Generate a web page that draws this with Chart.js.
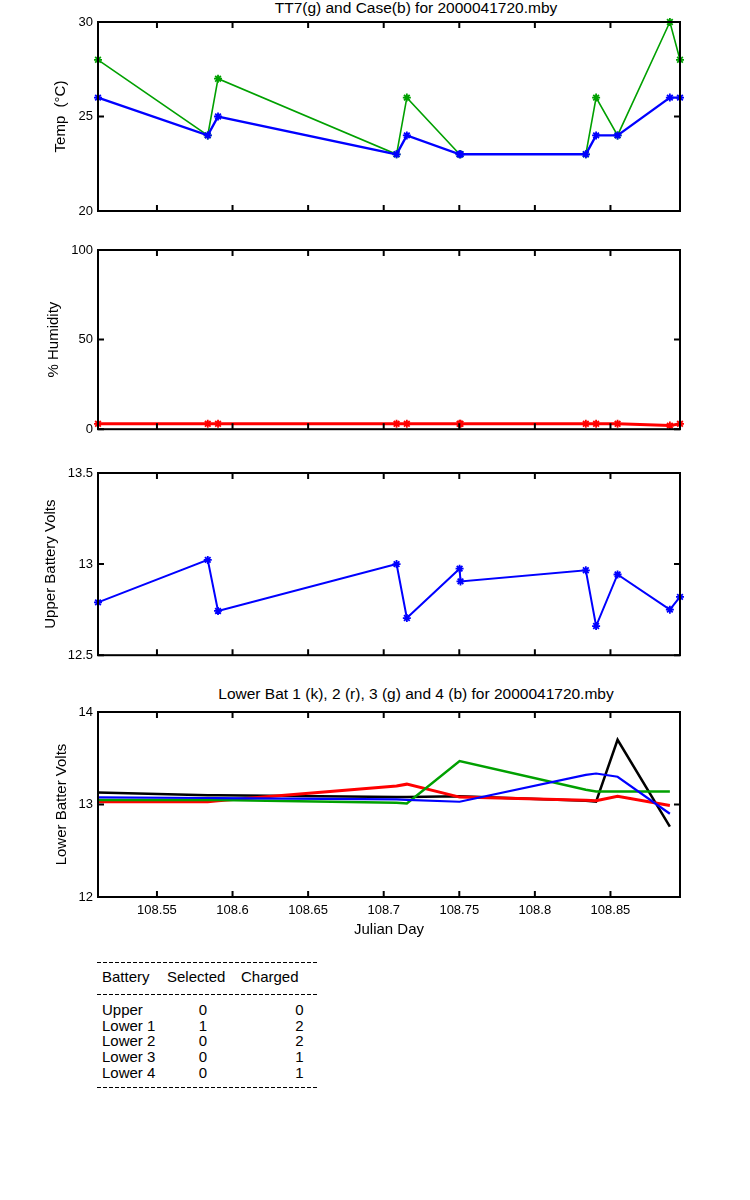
<!DOCTYPE html>
<html>
<head>
<meta charset="utf-8">
<script src="https://cdn.jsdelivr.net/npm/chart.js@4.4.1/dist/chart.umd.min.js"></script>
<style>
  body { margin: 0; background: #fff; }
  #page { position: relative; width: 750px; height: 1200px; font-family: 'Liberation Sans', Arial, sans-serif; color: #000; }
  canvas { position: absolute; left: 0; }
  .title { position: absolute; left: 416px; transform: translateX(-50%); font-size: 15.5px; line-height: 16px; white-space: pre; }
  .dash { position: absolute; left: 97px; width: 220px; height: 1px;
          background: repeating-linear-gradient(to right, #000 0 4px, transparent 4px 6px); }
  .cell { position: absolute; font-size: 15px; line-height: 16px; white-space: pre; }
</style>
</head>
<body>
<div id="page">
  <div class="title" style="top:0px">TT7(g) and Case(b) for 2000041720.mby</div>
  <canvas id="tempChart" width="750" height="232" style="top:0px"></canvas>
  <canvas id="humChart" width="750" height="210" style="top:232px"></canvas>
  <canvas id="upperChart" width="750" height="226" style="top:442px"></canvas>
  <div class="title" style="top:686px">Lower Bat 1 (k), 2 (r), 3 (g) and 4 (b) for 2000041720.mby</div>
  <canvas id="lowerChart" width="750" height="282" style="top:668px"></canvas>
  <div id="table"></div>
</div>
<script>
// Sample times (Julian day) shared by the upper three panels
const times = [108.511, 108.5836, 108.5904, 108.7085, 108.7153, 108.7502, 108.7508,
               108.8337, 108.8405, 108.8547, 108.8893, 108.896];
const tt7Temp  = [28, 24, 27, 23, 26, 23, 23, 23, 26, 24, 30, 28];
const caseTemp = [26, 24, 25, 23, 24, 23, 23, 23, 24, 24, 26, 26];
const humidity = [3, 3, 3, 3, 3, 3, 3, 3, 3, 3, 2, 3];
const upperVolts = [12.79, 13.023, 12.743, 13.0, 12.704, 12.975, 12.905,
                    12.966, 12.66, 12.943, 12.75, 12.82];

// Lower battery samples stop one reading earlier
const lowerTimes = [108.511, 108.5836, 108.5904, 108.7085, 108.7153, 108.7502,
                    108.8337, 108.8405, 108.8547, 108.8893];
const lower1 = [13.13, 13.10, 13.10, 13.08, 13.08, 13.09, 13.04, 13.03, 13.70, 12.76];
const lower2 = [13.03, 13.03, 13.04, 13.20, 13.22, 13.08, 13.045, 13.04, 13.09, 12.99];
const lower3 = [13.05, 13.05, 13.05, 13.02, 13.01, 13.47, 13.16, 13.14, 13.14, 13.14];
const lower4 = [13.076, 13.07, 13.07, 13.055, 13.05, 13.03, 13.32, 13.335, 13.30, 12.90];

// Axis ranges and tick labels
const xMin = 108.511, xMax = 108.896;
const xTicks = [108.55, 108.6, 108.65, 108.7, 108.75, 108.8, 108.85];
const tempTicks = [20, 25, 30];
const humTicks = [0, 50, 100];
const upperTicks = [12.5, 13, 13.5];
const lowerTicks = [12, 13, 14];

// Battery status table
const batteryNames = ['Upper', 'Lower 1', 'Lower 2', 'Lower 3', 'Lower 4'];
const selectedCounts = [0, 1, 0, 0, 0];
const chargedCounts = [0, 2, 2, 1, 1];

const FONT = "'Liberation Sans', Arial, sans-serif";
const GREEN = '#00a000';

// Draws the boxed axes with inward ticks on all four sides
const boxFrame = {
    id: 'boxFrame',
    afterDatasetsDraw(chart) {
        const { ctx, chartArea: a, scales: { x, y } } = chart;
        ctx.save();
        ctx.strokeStyle = '#000';
        ctx.lineWidth = 2;
        ctx.strokeRect(a.left, a.top, a.right - a.left, a.bottom - a.top);
        ctx.beginPath();
        x.ticks.forEach(t => {
            const px = x.getPixelForValue(t.value);
            ctx.moveTo(px, a.bottom); ctx.lineTo(px, a.bottom - 6);
            ctx.moveTo(px, a.top); ctx.lineTo(px, a.top + 6);
        });
        y.ticks.forEach(t => {
            const py = y.getPixelForValue(t.value);
            ctx.moveTo(a.left, py); ctx.lineTo(a.left + 6, py);
            ctx.moveTo(a.right, py); ctx.lineTo(a.right - 6, py);
        });
        ctx.stroke();
        ctx.restore();
    }
};

function toPoints(xs, ys) {
    return xs.map((t, i) => ({ x: t, y: ys[i] }));
}

function series(xs, ys, color, width, marker) {
    return {
        data: toPoints(xs, ys),
        borderColor: color,
        backgroundColor: color,
        borderWidth: width,
        pointStyle: 'star',
        pointRadius: marker ? 4 : 0,
        pointBorderWidth: 1.8,
        pointBorderColor: color,
        tension: 0,
        clip: false
    };
}

// Builds one stacked panel; geometry is set via padding and fixed axis sizes
function makePanel(id, datasets, opts) {
    const ctx = document.getElementById(id).getContext('2d');
    return new Chart(ctx, {
        type: 'line',
        data: { datasets },
        options: {
            responsive: false,
            animation: false,
            layout: { padding: { top: opts.padTop, bottom: opts.padBottom, left: 0, right: 70 } },
            plugins: { legend: { display: false }, tooltip: { enabled: false } },
            scales: {
                x: {
                    type: 'linear',
                    min: xMin,
                    max: xMax,
                    grid: { display: false, drawTicks: false },
                    border: { display: false },
                    ticks: {
                        display: opts.showX,
                        padding: 6,
                        maxRotation: 0,
                        autoSkip: false,
                        color: '#000',
                        font: { family: FONT, size: 13 },
                        callback: v => String(v)
                    },
                    title: {
                        display: opts.showX,
                        text: 'Julian Day',
                        color: '#000',
                        font: { family: FONT, size: 15 },
                        padding: { top: 0, bottom: 11 }
                    },
                    afterBuildTicks: s => { s.ticks = xTicks.map(v => ({ value: v })); },
                    afterFit: s => { s.height = opts.showX ? 53 : 0; }
                },
                y: {
                    min: opts.yTicks[0],
                    max: opts.yTicks[opts.yTicks.length - 1],
                    grid: { display: false, drawTicks: false },
                    border: { display: false },
                    ticks: {
                        padding: 5,
                        color: '#000',
                        font: { family: FONT, size: 13 },
                        callback: v => String(v)
                    },
                    title: {
                        display: true,
                        text: opts.yTitle,
                        color: '#000',
                        font: { family: FONT, size: 15 },
                        padding: { top: opts.yTitleX - 9, bottom: 0 }
                    },
                    afterBuildTicks: s => { s.ticks = opts.yTicks.map(v => ({ value: v })); },
                    afterFit: s => { s.width = 98; }
                }
            }
        },
        plugins: [boxFrame]
    });
}

function buildTable() {
    const table = document.getElementById('table');
    const page = document.getElementById('page');
    const addDash = y => {
        const d = document.createElement('div');
        d.className = 'dash';
        d.style.top = y + 'px';
        page.appendChild(d);
    };
    const addCell = (text, x, y, center) => {
        const c = document.createElement('div');
        c.className = 'cell';
        c.textContent = text;
        c.style.top = (y - 8) + 'px';
        c.style.left = x + 'px';
        if (center) c.style.transform = 'translateX(-50%)';
        table.appendChild(c);
    };
    addDash(962);
    addCell('Battery', 102, 977);
    addCell('Selected', 167, 977);
    addCell('Charged', 241, 977);
    addDash(994);
    batteryNames.forEach((name, i) => {
        const y = 1010 + i * 15.7;
        addCell(name, 102, y);
        addCell(String(selectedCounts[i]), 203, y, true);
        addCell(String(chargedCounts[i]), 299.5, y, true);
    });
    addDash(1087);
}

window.addEventListener('DOMContentLoaded', () => {
    makePanel('tempChart', [
        series(times, caseTemp, '#0000ff', 2.4, true),
        series(times, tt7Temp, GREEN, 1.6, true)
    ], { padTop: 22, padBottom: 21, yTicks: tempTicks, yTitle: 'Temp  (°C)', yTitleX: 61, showX: false });

    makePanel('humChart', [
        series(times, humidity, '#ff0000', 3, true)
    ], { padTop: 18, padBottom: 11, yTicks: humTicks, yTitle: '% Humidity', yTitleX: 54, showX: false });

    makePanel('upperChart', [
        series(times, upperVolts, '#0000ff', 2, true)
    ], { padTop: 31, padBottom: 8, yTicks: upperTicks, yTitle: 'Upper Battery Volts', yTitleX: 51, showX: false });

    makePanel('lowerChart', [
        series(lowerTimes, lower4, '#0000ff', 2.2, false),
        series(lowerTimes, lower3, GREEN, 2.5, false),
        series(lowerTimes, lower2, '#ff0000', 3, false),
        series(lowerTimes, lower1, '#000000', 2.5, false)
    ], { padTop: 44, padBottom: 0, yTicks: lowerTicks, yTitle: 'Lower Batter Volts', yTitleX: 62, showX: true });

    buildTable();
});
</script>
</body>
</html>
